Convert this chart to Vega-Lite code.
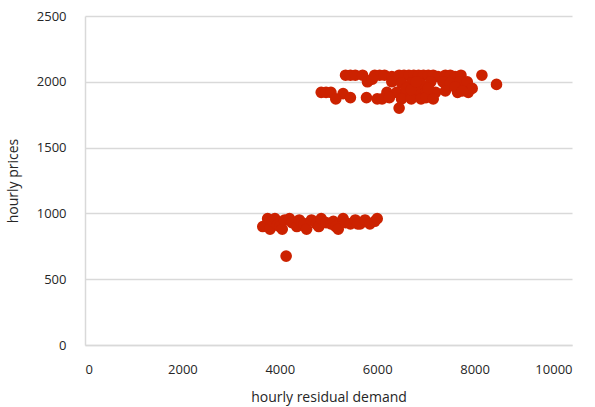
{
  "$schema": "https://vega.github.io/schema/vega-lite/v6.json",
  "width": 487,
  "height": 329,
  "autosize": "none",
  "padding": {"left": 85, "top": 16, "right": 23, "bottom": 62},
  "background": "white",
  "config": {
    "view": {"stroke": null},
    "font": "Open Sans",
    "axis": {"labelFont": "Open Sans", "titleFont": "Open Sans", "labelColor": "#262626", "titleColor": "#262626", "labelFontSize": 13, "titleFontSize": 14, "titleFontWeight": "normal"}
  },
  "data": {
    "values": [
      {"demand": 5350, "price": 2050}, {"demand": 5450, "price": 2050}, {"demand": 5550, "price": 2050}, {"demand": 5700, "price": 2050},
      {"demand": 5950, "price": 2050}, {"demand": 6050, "price": 2050}, {"demand": 6150, "price": 2050}, {"demand": 6300, "price": 2040},
      {"demand": 6450, "price": 2050}, {"demand": 6550, "price": 2050}, {"demand": 6650, "price": 2050}, {"demand": 6750, "price": 2050},
      {"demand": 6850, "price": 2050}, {"demand": 6950, "price": 2050}, {"demand": 7050, "price": 2050}, {"demand": 7150, "price": 2050},
      {"demand": 7250, "price": 2040}, {"demand": 7400, "price": 2050}, {"demand": 7500, "price": 2050}, {"demand": 7600, "price": 2040},
      {"demand": 7720, "price": 2050}, {"demand": 8150, "price": 2050},
      {"demand": 5800, "price": 2000}, {"demand": 5900, "price": 2020}, {"demand": 6300, "price": 2000}, {"demand": 6500, "price": 1990},
      {"demand": 6700, "price": 1990}, {"demand": 6900, "price": 1980}, {"demand": 7100, "price": 2000}, {"demand": 7350, "price": 2000},
      {"demand": 7500, "price": 1990}, {"demand": 7700, "price": 2000}, {"demand": 7850, "price": 2000}, {"demand": 8450, "price": 1980},
      {"demand": 4850, "price": 1920}, {"demand": 4950, "price": 1920}, {"demand": 5050, "price": 1920}, {"demand": 5300, "price": 1910},
      {"demand": 6200, "price": 1920}, {"demand": 6400, "price": 1920}, {"demand": 6600, "price": 1920}, {"demand": 6800, "price": 1920},
      {"demand": 7000, "price": 1920}, {"demand": 7200, "price": 1920}, {"demand": 7400, "price": 1930}, {"demand": 7650, "price": 1920},
      {"demand": 7870, "price": 1920}, {"demand": 7950, "price": 1950},
      {"demand": 5150, "price": 1870}, {"demand": 5450, "price": 1880}, {"demand": 5780, "price": 1880}, {"demand": 6000, "price": 1870},
      {"demand": 6100, "price": 1870}, {"demand": 6250, "price": 1880}, {"demand": 6500, "price": 1870}, {"demand": 6700, "price": 1870},
      {"demand": 6900, "price": 1870}, {"demand": 7000, "price": 1880}, {"demand": 7150, "price": 1870},
      {"demand": 6450, "price": 1800},
      {"demand": 6600, "price": 1950}, {"demand": 6700, "price": 1940}, {"demand": 6800, "price": 2000}, {"demand": 7050, "price": 1950},
      {"demand": 7600, "price": 1960}, {"demand": 7750, "price": 1930},
      {"demand": 3650, "price": 900}, {"demand": 3750, "price": 960}, {"demand": 3800, "price": 880}, {"demand": 3850, "price": 940},
      {"demand": 3900, "price": 960}, {"demand": 3950, "price": 910}, {"demand": 4000, "price": 900}, {"demand": 4050, "price": 880},
      {"demand": 4100, "price": 950}, {"demand": 4200, "price": 960}, {"demand": 4250, "price": 930}, {"demand": 4350, "price": 900},
      {"demand": 4400, "price": 950}, {"demand": 4450, "price": 930}, {"demand": 4500, "price": 920}, {"demand": 4550, "price": 880},
      {"demand": 4650, "price": 950}, {"demand": 4750, "price": 920}, {"demand": 4800, "price": 900}, {"demand": 4850, "price": 960},
      {"demand": 4950, "price": 930}, {"demand": 5050, "price": 920}, {"demand": 5100, "price": 940}, {"demand": 5150, "price": 900},
      {"demand": 5200, "price": 880}, {"demand": 5300, "price": 960}, {"demand": 5350, "price": 930}, {"demand": 5450, "price": 920},
      {"demand": 5550, "price": 950}, {"demand": 5600, "price": 920}, {"demand": 5650, "price": 920}, {"demand": 5750, "price": 950},
      {"demand": 5850, "price": 920}, {"demand": 5950, "price": 940}, {"demand": 6000, "price": 960},
      {"demand": 4130, "price": 675}
    ]
  },
  "mark": {"type": "circle", "size": 135, "color": "#CC2200", "opacity": 1},
  "encoding": {
    "x": {
      "field": "demand", "type": "quantitative",
      "scale": {"domain": [0, 10000]},
      "axis": {"title": "hourly residual demand", "format": "d", "values": [0, 2000, 4000, 6000, 8000, 10000], "grid": false, "ticks": false, "domainColor": "#d9d9d9", "domainWidth": 1.5, "labelPadding": 18, "titlePadding": 14}
    },
    "y": {
      "field": "price", "type": "quantitative",
      "scale": {"domain": [0, 2500]},
      "axis": {"title": "hourly prices", "format": "d", "values": [0, 500, 1000, 1500, 2000, 2500], "grid": true, "gridColor": "#d9d9d9", "gridWidth": 1.5, "ticks": false, "domainColor": "#d9d9d9", "domainWidth": 1.5, "labelPadding": 19, "titlePadding": 16}
    }
  }
}
